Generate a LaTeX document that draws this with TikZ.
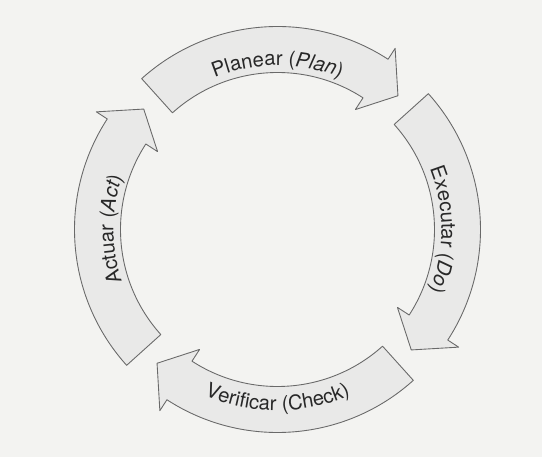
\documentclass[tikz,border=0pt]{standalone}
\usepackage{fontspec}
\setmainfont{TeX Gyre Heros}[Scale=1.15]
\usepackage{tikz}
\usetikzlibrary{decorations.text}
\definecolor{pdcapaper}{RGB}{243,243,241}
\definecolor{pdcafill}{RGB}{233,233,232}
\definecolor{pdcaline}{RGB}{105,105,105}
\definecolor{pdcatext}{RGB}{40,40,40}
\tikzstyle{stagearrow} = [fill=pdcafill, draw=pdcaline, line width=0.5pt, line join=round]
\tikzstyle{stagelabel} = [decorate, decoration={text along path, text align=center, text color=pdcatext}]

\begin{document}
\begin{tikzpicture}[x=0.02cm, y=0.02cm]
\useasboundingbox[fill=pdcapaper] (0,0) rectangle (542,457);
\begin{scope}[shift={(277.5,227.5)}]
% one curved arrow per quarter, running clockwise
\foreach \a in {90,0,-90,-180} {
  \path[stagearrow] (\a+42:203) arc[start angle=\a+42, end angle=\a-33, radius=203]
    -- (\a-33:216) -- (\a-42:180) -- (\a-33:143) -- (\a-33:157)
    arc[start angle=\a-33, end angle=\a+42, radius=157] -- cycle;
}

% labels along the arrows
\path[stagelabel, decoration={text={Planear (|\itshape|Plan|\upshape|)}}]
  (130:164) arc[start angle=130, end angle=50, radius=164];
\path[stagelabel, decoration={text={Executar (|\itshape|Do|\upshape|)}}]
  (40:164) arc[start angle=40, end angle=-40, radius=164];
\path[stagelabel, decoration={text={Verificar (Check)}}]
  (220:181) arc[start angle=220, end angle=320, radius=181];
\path[stagelabel, decoration={text={Actuar (|\itshape|Act|\upshape|)}}]
  (220:164) arc[start angle=220, end angle=140, radius=164];
\end{scope}
\end{tikzpicture}
\end{document}
